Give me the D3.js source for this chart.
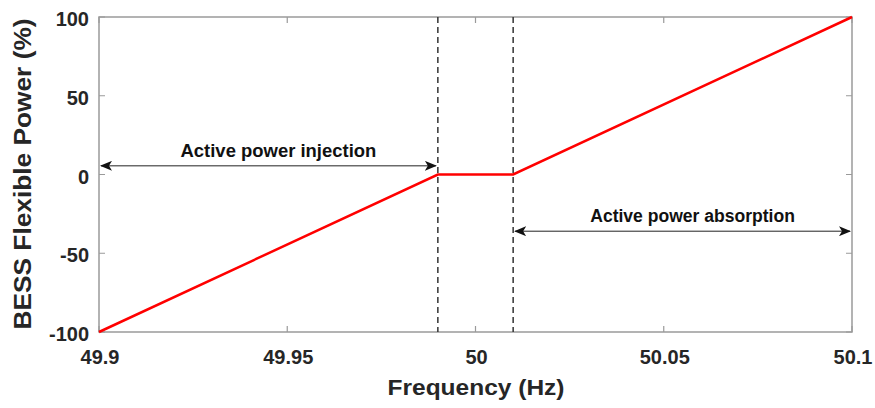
<!DOCTYPE html>
<html>
<head>
<meta charset="utf-8">
<script src="https://cdn.jsdelivr.net/npm/d3@7"></script>
<style>
  body { margin: 0; background: #fff; }
  text { font-family: "Liberation Sans", Arial, sans-serif; font-weight: bold; }
</style>
</head>
<body>
<svg id="chart"></svg>
<script>
// droop curve: frequency (Hz) vs flexible power (%)
const freq = [49.9, 49.99, 50.01, 50.1]
const power = [-100, 0, 0, 100]
const deadband = [49.99, 50.01]
const xTicks = [49.9, 49.95, 50, 50.05, 50.1]
const yTicks = [-100, -50, 0, 50, 100]
// annotation arrows: [x0, x1, y, label]
const arrows = [
    [49.9, 49.99, 5.5, "Active power injection"],
    [50.01, 50.1, -36, "Active power absorption"]
]

const W = 875, H = 408
const margin = { top: 17, right: 23, bottom: 76, left: 99 }
const w = W - margin.left - margin.right
const h = H - margin.top - margin.bottom

const svg = d3.select("#chart").attr("width", W).attr("height", H)
const g = svg.append("g").attr("transform", `translate(${margin.left},${margin.top})`)

const x = d3.scaleLinear().domain([49.9, 50.1]).range([0, w])
const y = d3.scaleLinear().domain([-100, 100]).range([h, 0])

const axisCol = "#9a9a9a", textCol = "#262626"

// box
g.append("rect").attr("width", w).attr("height", h)
    .attr("fill", "none").attr("stroke", axisCol).attr("stroke-width", 1.5)

// inward ticks on all four sides
const tl = 6
g.selectAll(".xt").data(xTicks).enter().append("path")
    .attr("d", d => `M${x(d)},${h}v${-tl}M${x(d)},0v${tl}`)
    .attr("stroke", axisCol).attr("stroke-width", 1.2)
g.selectAll(".yt").data(yTicks).enter().append("path")
    .attr("d", d => `M0,${y(d)}h${tl}M${w},${y(d)}h${-tl}`)
    .attr("stroke", axisCol).attr("stroke-width", 1.2)

g.selectAll(".xl").data(xTicks).enter().append("text")
    .attr("x", d => x(d) + 1).attr("y", h + 32)
    .attr("text-anchor", "middle").attr("font-size", 20).attr("fill", textCol)
    .text(d => d3.format("")(d))
g.selectAll(".yl").data(yTicks).enter().append("text")
    .attr("x", -10).attr("y", d => y(d) + 9)
    .attr("text-anchor", "end").attr("font-size", 20).attr("fill", textCol)
    .text(d => d)

// axis titles
svg.append("text").attr("x", 476).attr("y", 395)
    .attr("text-anchor", "middle").attr("font-size", 22).attr("fill", textCol)
    .attr("textLength", 177).attr("lengthAdjust", "spacingAndGlyphs")
    .text("Frequency (Hz)")
svg.append("text").attr("transform", `translate(31,174) rotate(-90)`)
    .attr("text-anchor", "middle").attr("font-size", 23).attr("fill", textCol)
    .attr("textLength", 311).attr("lengthAdjust", "spacingAndGlyphs")
    .text("BESS Flexible Power (%)")

// dead band dashed lines
g.selectAll(".db").data(deadband).enter().append("line")
    .attr("x1", d => x(d)).attr("x2", d => x(d))
    .attr("y1", 0).attr("y2", h)
    .attr("stroke", "#333").attr("stroke-width", 1.5)
    .attr("stroke-dasharray", "6,4")

// arrow markers
const defs = svg.append("defs")
const mk = (id, orient) => defs.append("marker").attr("id", id)
    .attr("viewBox", "0 0 12 10").attr("refX", 11).attr("refY", 5)
    .attr("markerWidth", 12).attr("markerHeight", 10)
    .attr("markerUnits", "userSpaceOnUse").attr("orient", orient)
    .append("path").attr("d", "M0,0L12,5L0,10L3,5Z").attr("fill", "#111")
mk("arr", "auto")
mk("arrStart", "auto-start-reverse")

arrows.forEach(a => {
    g.append("line")
        .attr("x1", x(a[0]) + 2).attr("x2", x(a[1]) - 2)
        .attr("y1", y(a[2])).attr("y2", y(a[2]))
        .attr("stroke", "#222").attr("stroke-width", 1)
        .attr("marker-start", "url(#arrStart)").attr("marker-end", "url(#arr)")
    g.append("text")
        .attr("x", (x(a[0]) + x(a[1])) / 2 + 10).attr("y", y(a[2]) - 9)
        .attr("text-anchor", "middle").attr("font-size", 18).attr("fill", "#111")
        .attr("textLength", a[3].length * 8.9).attr("lengthAdjust", "spacingAndGlyphs")
        .text(a[3])
})

// red curve
g.append("path")
    .datum(freq.map((f, i) => [f, power[i]]))
    .attr("d", d3.line().x(d => x(d[0])).y(d => y(d[1])))
    .attr("fill", "none").attr("stroke", "#ff0000").attr("stroke-width", 2.5)
</script>
</body>
</html>
